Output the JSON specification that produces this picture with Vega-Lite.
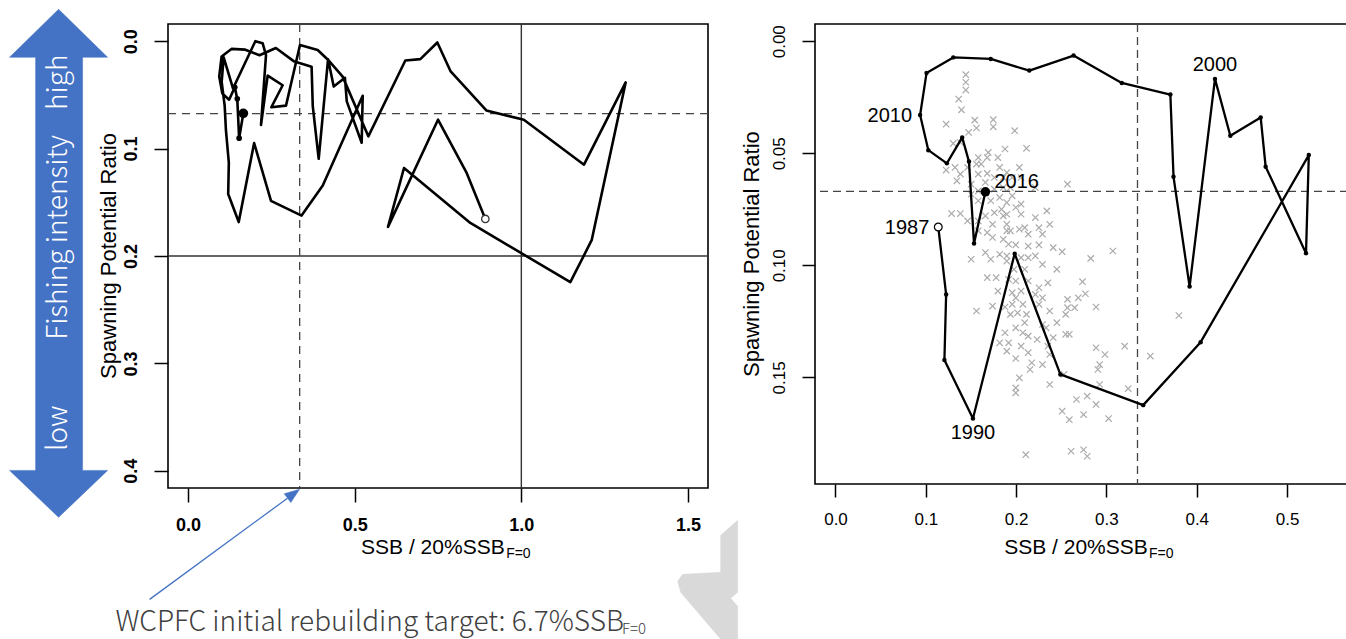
{
  "$schema": "https://vega.github.io/schema/vega-lite/v6.json",
  "padding": {"left": 7, "top": 7, "right": 0, "bottom": 0},
  "spacing": 107,
  "bounds": "flush",
  "background": "white",
  "config": {
    "view": {"stroke": "black", "strokeWidth": 1.6},
    "font": "Liberation Sans",
    "axis": {"grid": false, "domain": false, "tickColor": "black", "tickWidth": 1.5, "labelColor": "black", "labelFont": "Liberation Sans", "labelFontSize": 17, "labelFlush": false, "labelOverlap": false, "labelBound": false}
  },
  "datasets": {
    "lp": [
      {"i": 0, "x": 0.892, "y": 0.1655}, {"i": 1, "x": 0.836, "y": 0.1227}, {"i": 2, "x": 0.75, "y": 0.0731}, {"i": 3, "x": 0.6, "y": 0.1729},
      {"i": 4, "x": 0.648, "y": 0.1181}, {"i": 5, "x": 0.847, "y": 0.1692}, {"i": 6, "x": 1.147, "y": 0.2244}, {"i": 7, "x": 1.211, "y": 0.1853},
      {"i": 8, "x": 1.313, "y": 0.0384}, {"i": 9, "x": 1.188, "y": 0.115}, {"i": 10, "x": 1.0075, "y": 0.0731}, {"i": 11, "x": 0.895, "y": 0.0645},
      {"i": 12, "x": 0.788, "y": 0.0282}, {"i": 13, "x": 0.748, "y": 0.0012}, {"i": 14, "x": 0.697, "y": 0.0167}, {"i": 15, "x": 0.652, "y": 0.018},
      {"i": 16, "x": 0.541, "y": 0.0886}, {"i": 17, "x": 0.464, "y": 0.033}, {"i": 18, "x": 0.419, "y": 0.017}, {"i": 19, "x": 0.389, "y": 0.0082},
      {"i": 20, "x": 0.336, "y": 0.0035}, {"i": 21, "x": 0.294, "y": 0.06}, {"i": 22, "x": 0.25, "y": 0.0615}, {"i": 23, "x": 0.284, "y": 0.041},
      {"i": 24, "x": 0.239, "y": 0.032}, {"i": 25, "x": 0.219, "y": 0.078}, {"i": 26, "x": 0.234, "y": 0.013}, {"i": 27, "x": 0.224, "y": 0.002},
      {"i": 28, "x": 0.202, "y": 0.0}, {"i": 29, "x": 0.135, "y": 0.044}, {"i": 30, "x": 0.107, "y": 0.015}, {"i": 31, "x": 0.101, "y": 0.038},
      {"i": 32, "x": 0.11, "y": 0.06},
      {"i": 33, "x": 0.1138, "y": 0.0829}, {"i": 34, "x": 0.1225, "y": 0.113}, {"i": 35, "x": 0.1206, "y": 0.1423}, {"i": 36, "x": 0.1522, "y": 0.1684},
      {"i": 37, "x": 0.1984, "y": 0.0948}, {"i": 38, "x": 0.249, "y": 0.1487}, {"i": 39, "x": 0.3407, "y": 0.1624}, {"i": 40, "x": 0.4043, "y": 0.1343},
      {"i": 41, "x": 0.5241, "y": 0.0508}, {"i": 42, "x": 0.521, "y": 0.0946}, {"i": 43, "x": 0.4763, "y": 0.056}, {"i": 44, "x": 0.4708, "y": 0.034},
      {"i": 45, "x": 0.4372, "y": 0.0422}, {"i": 46, "x": 0.4202, "y": 0.0168}, {"i": 47, "x": 0.3921, "y": 0.1095}, {"i": 48, "x": 0.3743, "y": 0.0605},
      {"i": 49, "x": 0.3708, "y": 0.0238}, {"i": 50, "x": 0.317, "y": 0.0186}, {"i": 51, "x": 0.2636, "y": 0.0064}, {"i": 52, "x": 0.2146, "y": 0.0131},
      {"i": 53, "x": 0.1719, "y": 0.0079}, {"i": 54, "x": 0.1304, "y": 0.0072}, {"i": 55, "x": 0.1008, "y": 0.0142}, {"i": 56, "x": 0.0937, "y": 0.0329},
      {"i": 57, "x": 0.1028, "y": 0.0486}, {"i": 58, "x": 0.1233, "y": 0.0545}, {"i": 59, "x": 0.1403, "y": 0.0429}, {"i": 60, "x": 0.1478, "y": 0.0537},
      {"i": 61, "x": 0.1534, "y": 0.0903}, {"i": 62, "x": 0.166, "y": 0.0672}
    ],
    "rp": [
      {"year": 1987, "x": 0.1138, "y": 0.0829}, {"year": 1988, "x": 0.1225, "y": 0.113}, {"year": 1989, "x": 0.1206, "y": 0.1423}, {"year": 1990, "x": 0.1522, "y": 0.1684},
      {"year": 1991, "x": 0.1984, "y": 0.0948}, {"year": 1992, "x": 0.249, "y": 0.1487}, {"year": 1993, "x": 0.3407, "y": 0.1624}, {"year": 1994, "x": 0.4043, "y": 0.1343},
      {"year": 1995, "x": 0.5241, "y": 0.0508}, {"year": 1996, "x": 0.521, "y": 0.0946}, {"year": 1997, "x": 0.4763, "y": 0.056}, {"year": 1998, "x": 0.4708, "y": 0.034},
      {"year": 1999, "x": 0.4372, "y": 0.0422}, {"year": 2000, "x": 0.4202, "y": 0.0168}, {"year": 2001, "x": 0.3921, "y": 0.1095}, {"year": 2002, "x": 0.3743, "y": 0.0605},
      {"year": 2003, "x": 0.3708, "y": 0.0238}, {"year": 2004, "x": 0.317, "y": 0.0186}, {"year": 2005, "x": 0.2636, "y": 0.0064}, {"year": 2006, "x": 0.2146, "y": 0.0131},
      {"year": 2007, "x": 0.1719, "y": 0.0079}, {"year": 2008, "x": 0.1304, "y": 0.0072}, {"year": 2009, "x": 0.1008, "y": 0.0142}, {"year": 2010, "x": 0.0937, "y": 0.0329},
      {"year": 2011, "x": 0.1028, "y": 0.0486}, {"year": 2012, "x": 0.1233, "y": 0.0545}, {"year": 2013, "x": 0.1403, "y": 0.0429}, {"year": 2014, "x": 0.1478, "y": 0.0537},
      {"year": 2015, "x": 0.1534, "y": 0.0903}, {"year": 2016, "x": 0.166, "y": 0.0672}
    ],
    "cr": [
      {"x":0.1443,"y":0.0149},{"x":0.1443,"y":0.0183},{"x":0.1443,"y":0.0218},{"x":0.1364,"y":0.0258},{"x":0.1395,"y":0.0306},{"x":0.1225,"y":0.037},{"x":0.1542,"y":0.0352},{"x":0.1561,"y":0.0387},{"x":0.1747,"y":0.035},{"x":0.1747,"y":0.0382},
      {"x":0.1984,"y":0.0399},{"x":0.1474,"y":0.0407},{"x":0.1383,"y":0.0452},{"x":0.1304,"y":0.0456},{"x":0.2115,"y":0.0478},{"x":0.1877,"y":0.0481},{"x":0.1692,"y":0.0496},{"x":0.1581,"y":0.0519},{"x":0.168,"y":0.0519},{"x":0.1798,"y":0.0519},
      {"x":0.1561,"y":0.0548},{"x":0.1613,"y":0.0548},{"x":0.1225,"y":0.0575},{"x":0.1324,"y":0.0563},{"x":0.1383,"y":0.0593},{"x":0.1462,"y":0.0563},{"x":0.1818,"y":0.0563},{"x":0.1897,"y":0.0586},{"x":0.2036,"y":0.0563},{"x":0.1581,"y":0.0593},
      {"x":0.168,"y":0.059},{"x":0.1759,"y":0.0608},{"x":0.1858,"y":0.0608},{"x":0.1957,"y":0.0608},{"x":0.2055,"y":0.0608},{"x":0.1344,"y":0.0623},{"x":0.1502,"y":0.0638},{"x":0.166,"y":0.063},{"x":0.2569,"y":0.0638},{"x":0.2213,"y":0.0653},
      {"x":0.1937,"y":0.0653},{"x":0.1858,"y":0.0653},{"x":0.1759,"y":0.066},{"x":0.1581,"y":0.0668},{"x":0.1502,"y":0.0683},{"x":0.1957,"y":0.069},{"x":0.1818,"y":0.0697},{"x":0.1719,"y":0.0712},{"x":0.1581,"y":0.0712},{"x":0.1897,"y":0.072},
      {"x":0.2055,"y":0.0727},{"x":0.1996,"y":0.0742},{"x":0.1838,"y":0.075},{"x":0.1759,"y":0.0765},{"x":0.1897,"y":0.0772},{"x":0.2055,"y":0.0772},{"x":0.1285,"y":0.0769},{"x":0.1383,"y":0.0769},{"x":0.166,"y":0.0779},{"x":0.1858,"y":0.0779},
      {"x":0.234,"y":0.0757},{"x":0.2213,"y":0.0787},{"x":0.1462,"y":0.0802},{"x":0.1581,"y":0.0802},{"x":0.1739,"y":0.0817},{"x":0.1897,"y":0.0817},{"x":0.2372,"y":0.0817},{"x":0.2095,"y":0.0832},{"x":0.2253,"y":0.0832},{"x":0.1581,"y":0.0846},
      {"x":0.168,"y":0.0854},{"x":0.1897,"y":0.0846},{"x":0.1937,"y":0.0846},{"x":0.2036,"y":0.0839},{"x":0.2134,"y":0.0861},{"x":0.2292,"y":0.0861},{"x":0.1739,"y":0.0876},{"x":0.1858,"y":0.0884},{"x":0.2411,"y":0.0921},{"x":0.251,"y":0.0939},
      {"x":0.1917,"y":0.0906},{"x":0.1996,"y":0.0909},{"x":0.2134,"y":0.0914},{"x":0.2253,"y":0.0909},{"x":0.166,"y":0.0943},{"x":0.1818,"y":0.0951},{"x":0.1897,"y":0.0958},{"x":0.2055,"y":0.0966},{"x":0.2134,"y":0.0966},{"x":0.2213,"y":0.0958},
      {"x":0.1502,"y":0.0973},{"x":0.1719,"y":0.0973},{"x":0.1897,"y":0.0981},{"x":0.2826,"y":0.0969},{"x":0.3071,"y":0.0936},{"x":0.2451,"y":0.1018},{"x":0.2292,"y":0.0996},{"x":0.2095,"y":0.1018},{"x":0.1976,"y":0.1018},{"x":0.1779,"y":0.1055},
      {"x":0.168,"y":0.1055},{"x":0.1917,"y":0.1063},{"x":0.1996,"y":0.107},{"x":0.2134,"y":0.107},{"x":0.2352,"y":0.1078},{"x":0.2735,"y":0.1073},{"x":0.2253,"y":0.11},{"x":0.2055,"y":0.1115},{"x":0.1957,"y":0.1122},{"x":0.1798,"y":0.1115},
      {"x":0.1996,"y":0.1145},{"x":0.2213,"y":0.113},{"x":0.2292,"y":0.1145},{"x":0.2569,"y":0.1152},{"x":0.2688,"y":0.1145},{"x":0.2767,"y":0.1127},{"x":0.1739,"y":0.1182},{"x":0.1877,"y":0.1186},{"x":0.1957,"y":0.1174},{"x":0.2075,"y":0.1174},
      {"x":0.2253,"y":0.1174},{"x":0.2569,"y":0.1189},{"x":0.2648,"y":0.1189},{"x":0.2885,"y":0.1186},{"x":0.1561,"y":0.1204},{"x":0.1937,"y":0.1219},{"x":0.2016,"y":0.1212},{"x":0.2115,"y":0.1219},{"x":0.2372,"y":0.1204},{"x":0.2549,"y":0.1219},
      {"x":0.3802,"y":0.1224},{"x":0.2095,"y":0.1256},{"x":0.2292,"y":0.1264},{"x":0.2451,"y":0.1256},{"x":0.2332,"y":0.1279},{"x":0.1996,"y":0.1279},{"x":0.2075,"y":0.1301},{"x":0.1877,"y":0.1301},{"x":0.2134,"y":0.1316},{"x":0.2233,"y":0.1331},
      {"x":0.2549,"y":0.1308},{"x":0.2589,"y":0.1308},{"x":0.2411,"y":0.1323},{"x":0.1818,"y":0.1346},{"x":0.1917,"y":0.1346},{"x":0.2055,"y":0.1361},{"x":0.2352,"y":0.1361},{"x":0.1897,"y":0.1383},{"x":0.2134,"y":0.139},{"x":0.2885,"y":0.1368},
      {"x":0.3202,"y":0.1361},{"x":0.2984,"y":0.1398},{"x":0.2372,"y":0.1398},{"x":0.3486,"y":0.1405},{"x":0.1996,"y":0.1416},{"x":0.2174,"y":0.1435},{"x":0.2292,"y":0.1443},{"x":0.2925,"y":0.1443},{"x":0.2905,"y":0.1465},{"x":0.253,"y":0.1487},
      {"x":0.2154,"y":0.1465},{"x":0.2036,"y":0.1502},{"x":0.2372,"y":0.1532},{"x":0.2925,"y":0.1532},{"x":0.3241,"y":0.155},{"x":0.1996,"y":0.1547},{"x":0.1996,"y":0.1569},{"x":0.2668,"y":0.1599},{"x":0.2787,"y":0.1584},{"x":0.2885,"y":0.1621},
      {"x":0.251,"y":0.1651},{"x":0.2747,"y":0.1666},{"x":0.3024,"y":0.1684},{"x":0.2589,"y":0.1689},{"x":0.2107,"y":0.1845},{"x":0.2609,"y":0.183},{"x":0.2747,"y":0.1823},{"x":0.2787,"y":0.1852}
    ],
    "arrowPoly": [
      {"i": 0, "x": -0.3882, "y": -0.0297}, {"i": 1, "x": -0.2412, "y": 0.015}, {"i": 2, "x": -0.3162, "y": 0.015}, {"i": 3, "x": -0.3162, "y": 0.3996},
      {"i": 4, "x": -0.2412, "y": 0.3996}, {"i": 5, "x": -0.3882, "y": 0.4433}, {"i": 6, "x": -0.5353, "y": 0.3996}, {"i": 7, "x": -0.4572, "y": 0.3996},
      {"i": 8, "x": -0.4572, "y": 0.015}, {"i": 9, "x": -0.5353, "y": 0.015}, {"i": 10, "x": -0.3882, "y": -0.0297}
    ],
    "grayPoly": [
      {"i": 0, "x": 1.598, "y": 0.4601}, {"i": 1, "x": 1.649, "y": 0.4461}, {"i": 2, "x": 1.649, "y": 0.5131}, {"i": 3, "x": 1.628, "y": 0.5187},
      {"i": 4, "x": 1.649, "y": 0.5261}, {"i": 5, "x": 1.649, "y": 0.5588}, {"i": 6, "x": 1.604, "y": 0.5588}, {"i": 7, "x": 1.478, "y": 0.5131},
      {"i": 8, "x": 1.469, "y": 0.5029}, {"i": 9, "x": 1.484, "y": 0.4964}, {"i": 10, "x": 1.598, "y": 0.4945}, {"i": 11, "x": 1.598, "y": 0.4601}
    ]
  },
  "hconcat": [
    {
      "width": 540,
      "height": 464,
      "layer": [
        {
          "data": {"name": "grayPoly"},
          "mark": {"type": "line", "color": "#d9d9d9", "fill": "#d9d9d9", "strokeWidth": 0.5},
          "encoding": {
            "x": {"field": "x", "type": "quantitative", "title": null, "scale": {"domain": [-0.06, 1.56], "nice": false, "zero": false},
              "axis": {"values": [0, 0.5, 1, 1.5], "format": ".1f", "tickSize": 14, "labelPadding": 14, "labelFontSize": 18, "labelFontWeight": "bold", "title": null}},
            "y": {"field": "y", "type": "quantitative", "title": null, "scale": {"domain": [-0.016, 0.416], "nice": false, "zero": false, "reverse": true},
              "axis": {"values": [0, 0.1, 0.2, 0.3, 0.4], "format": ".1f", "tickSize": 14, "labelPadding": 14, "labelFontSize": 18, "labelFontWeight": "bold", "labelAngle": 270, "labelAlign": "center", "labelBaseline": "bottom", "title": null}},
            "order": {"field": "i"}
          }
        },
        {
          "data": {"values": [{}]},
          "mark": {"type": "rule", "color": "#333333", "strokeWidth": 1.4},
          "encoding": {"y": {"datum": 0.2, "type": "quantitative"}}
        },
        {
          "data": {"values": [{}]},
          "mark": {"type": "rule", "color": "#333333", "strokeWidth": 1.4},
          "encoding": {"x": {"datum": 1.0, "type": "quantitative"}}
        },
        {
          "data": {"values": [{}]},
          "mark": {"type": "rule", "color": "#444444", "strokeWidth": 1.3, "strokeDash": [8, 6]},
          "encoding": {"y": {"datum": 0.0675, "type": "quantitative"}}
        },
        {
          "data": {"values": [{}]},
          "mark": {"type": "rule", "color": "#444444", "strokeWidth": 1.3, "strokeDash": [8, 6]},
          "encoding": {"x": {"datum": 0.335, "type": "quantitative"}}
        },
        {
          "data": {"name": "lp"},
          "mark": {"type": "line", "color": "black", "strokeWidth": 2.6, "strokeJoin": "round"},
          "encoding": {
            "x": {"field": "x", "type": "quantitative", "title": null},
            "y": {"field": "y", "type": "quantitative", "title": null},
            "order": {"field": "i"}
          }
        },
        {
          "data": {"values": [{"x": 0.892, "y": 0.1655}]},
          "mark": {"type": "point", "shape": "circle", "size": 55, "filled": false, "fill": "white", "stroke": "#333333", "strokeWidth": 1.3, "opacity": 1},
          "encoding": {"x": {"field": "x", "type": "quantitative", "title": null}, "y": {"field": "y", "type": "quantitative", "title": null}}
        },
        {
          "data": {"values": [{"x": 0.1403, "y": 0.0429}, {"x": 0.1478, "y": 0.0537}, {"x": 0.1534, "y": 0.0903}]},
          "mark": {"type": "point", "shape": "circle", "size": 32, "filled": true, "color": "black", "opacity": 1},
          "encoding": {"x": {"field": "x", "type": "quantitative", "title": null}, "y": {"field": "y", "type": "quantitative", "title": null}}
        },
        {
          "data": {"values": [{"x": 0.166, "y": 0.0672}]},
          "mark": {"type": "point", "shape": "circle", "size": 95, "filled": true, "color": "black", "opacity": 1},
          "encoding": {"x": {"field": "x", "type": "quantitative", "title": null}, "y": {"field": "y", "type": "quantitative", "title": null}}
        },
        {
          "data": {"name": "arrowPoly"},
          "mark": {"type": "line", "color": "#4472C4", "fill": "#4472C4", "strokeWidth": 0.5},
          "encoding": {
            "x": {"field": "x", "type": "quantitative", "title": null},
            "y": {"field": "y", "type": "quantitative", "title": null},
            "order": {"field": "i"}
          }
        },
        {
          "data": {"values": [{"x": -0.3882, "y": 0.0383, "t": "high"}, {"x": -0.3882, "y": 0.1826, "t": "Fishing   intensity"}, {"x": -0.3882, "y": 0.3604, "t": "low"}]},
          "mark": {"type": "text", "angle": 270, "align": "center", "baseline": "middle", "color": "white", "font": "Noto Sans CJK JP", "fontWeight": 300, "fontSize": 28},
          "encoding": {"x": {"field": "x", "type": "quantitative", "title": null}, "y": {"field": "y", "type": "quantitative", "title": null}, "text": {"field": "t"}}
        },
        {
          "data": {"values": [{"i": 0, "x": -0.1152, "y": 0.5197}, {"i": 1, "x": 0.2985, "y": 0.4255}]},
          "mark": {"type": "line", "color": "#4472C4", "strokeWidth": 1.3},
          "encoding": {"x": {"field": "x", "type": "quantitative", "title": null}, "y": {"field": "y", "type": "quantitative", "title": null}, "order": {"field": "i"}}
        },
        {
          "data": {"values": [{"i": 0, "x": 0.3348, "y": 0.4172}, {"i": 1, "x": 0.3084, "y": 0.4296}, {"i": 2, "x": 0.2886, "y": 0.4214}, {"i": 3, "x": 0.3348, "y": 0.4172}]},
          "mark": {"type": "line", "color": "#4472C4", "fill": "#4472C4", "strokeWidth": 0.5},
          "encoding": {"x": {"field": "x", "type": "quantitative", "title": null}, "y": {"field": "y", "type": "quantitative", "title": null}, "order": {"field": "i"}}
        },
        {
          "data": {"values": [{"x": -0.2172, "y": 0.5495, "t": "WCPFC initial rebuilding target: 6.7%SSB"}]},
          "mark": {"type": "text", "align": "left", "baseline": "alphabetic", "color": "#404040", "font": "Noto Sans CJK JP", "fontWeight": 300, "fontSize": 28},
          "encoding": {"x": {"field": "x", "type": "quantitative", "title": null}, "y": {"field": "y", "type": "quantitative", "title": null}, "text": {"field": "t"}}
        },
        {
          "data": {"values": [{"x": 1.302, "y": 0.5518, "t": "F=0"}]},
          "mark": {"type": "text", "align": "left", "baseline": "alphabetic", "color": "#404040", "font": "Noto Sans CJK JP", "fontWeight": 300, "fontSize": 15},
          "encoding": {"x": {"field": "x", "type": "quantitative", "title": null}, "y": {"field": "y", "type": "quantitative", "title": null}, "text": {"field": "t"}}
        },
        {
          "data": {"values": [{"x": 0.95, "y": 0.4778, "t": "SSB / 20%SSB"}]},
          "mark": {"type": "text", "align": "right", "baseline": "alphabetic", "color": "black", "font": "Liberation Sans", "fontSize": 21},
          "encoding": {"x": {"field": "x", "type": "quantitative", "title": null}, "y": {"field": "y", "type": "quantitative", "title": null}, "text": {"field": "t"}}
        },
        {
          "data": {"values": [{"x": 0.9544, "y": 0.4815, "t": "F=0"}]},
          "mark": {"type": "text", "align": "left", "baseline": "alphabetic", "color": "black", "font": "Liberation Sans", "fontSize": 14},
          "encoding": {"x": {"field": "x", "type": "quantitative", "title": null}, "y": {"field": "y", "type": "quantitative", "title": null}, "text": {"field": "t"}}
        },
        {
          "data": {"values": [{"x": -0.2382, "y": 0.2, "t": "Spawning Potential Ratio"}]},
          "mark": {"type": "text", "angle": 270, "align": "center", "baseline": "middle", "color": "black", "font": "Liberation Sans", "fontSize": 22},
          "encoding": {"x": {"field": "x", "type": "quantitative", "title": null}, "y": {"field": "y", "type": "quantitative", "title": null}, "text": {"field": "t"}}
        }
      ]
    },
    {
      "width": 533,
      "height": 460,
      "layer": [
        {
          "data": {"name": "cr"},
          "mark": {"type": "point", "shape": "M-1,-1L1,1M-1,1L1,-1", "size": 40, "filled": false, "stroke": "#ababab", "strokeWidth": 1.2, "opacity": 1},
          "encoding": {
            "x": {"field": "x", "type": "quantitative", "title": null, "scale": {"domain": [-0.0227, 0.5675], "nice": false, "zero": false},
              "axis": {"values": [0, 0.1, 0.2, 0.3, 0.4, 0.5], "format": ".1f", "tickSize": 13, "labelPadding": 14, "labelFontSize": 17, "title": null}},
            "y": {"field": "y", "type": "quantitative", "title": null, "scale": {"domain": [-0.0077, 0.1976], "nice": false, "zero": false, "reverse": true},
              "axis": {"values": [0, 0.05, 0.1, 0.15], "format": ".2f", "tickSize": 13, "labelPadding": 14, "labelFontSize": 17, "labelAngle": 270, "labelAlign": "center", "labelBaseline": "bottom", "title": null}}
          }
        },
        {
          "data": {"values": [{}]},
          "mark": {"type": "rule", "color": "#444444", "strokeWidth": 1.3, "strokeDash": [8, 5]},
          "encoding": {"y": {"datum": 0.067, "type": "quantitative"}}
        },
        {
          "data": {"values": [{}]},
          "mark": {"type": "rule", "color": "#444444", "strokeWidth": 1.3, "strokeDash": [8, 5]},
          "encoding": {"x": {"datum": 0.3344, "type": "quantitative"}}
        },
        {
          "data": {"name": "rp"},
          "mark": {"type": "line", "color": "black", "strokeWidth": 2.3, "strokeJoin": "round"},
          "encoding": {
            "x": {"field": "x", "type": "quantitative", "title": null},
            "y": {"field": "y", "type": "quantitative", "title": null},
            "order": {"field": "year"}
          }
        },
        {
          "data": {"name": "rp"},
          "mark": {"type": "point", "shape": "circle", "size": 20, "filled": true, "color": "black", "opacity": 1},
          "encoding": {"x": {"field": "x", "type": "quantitative", "title": null}, "y": {"field": "y", "type": "quantitative", "title": null}}
        },
        {
          "data": {"values": [{"x": 0.1138, "y": 0.0829}]},
          "mark": {"type": "point", "shape": "circle", "size": 60, "filled": false, "fill": "white", "stroke": "black", "strokeWidth": 1.2, "opacity": 1},
          "encoding": {"x": {"field": "x", "type": "quantitative", "title": null}, "y": {"field": "y", "type": "quantitative", "title": null}}
        },
        {
          "data": {"values": [{"x": 0.166, "y": 0.0672}]},
          "mark": {"type": "point", "shape": "circle", "size": 90, "filled": true, "color": "black", "opacity": 1},
          "encoding": {"x": {"field": "x", "type": "quantitative", "title": null}, "y": {"field": "y", "type": "quantitative", "title": null}}
        },
        {
          "data": {"values": [{"x": 0.4202, "y": 0.0168, "t": "2000"}]},
          "mark": {"type": "text", "align": "center", "baseline": "middle", "dy": -14, "fontSize": 20, "font": "Liberation Sans", "color": "black"},
          "encoding": {"x": {"field": "x", "type": "quantitative", "title": null}, "y": {"field": "y", "type": "quantitative", "title": null}, "text": {"field": "t"}}
        },
        {
          "data": {"values": [{"x": 0.0937, "y": 0.0329, "t": "2010"}]},
          "mark": {"type": "text", "align": "right", "baseline": "middle", "dx": -8, "dy": 1, "fontSize": 20, "font": "Liberation Sans", "color": "black"},
          "encoding": {"x": {"field": "x", "type": "quantitative", "title": null}, "y": {"field": "y", "type": "quantitative", "title": null}, "text": {"field": "t"}}
        },
        {
          "data": {"values": [{"x": 0.166, "y": 0.0672, "t": "2016"}]},
          "mark": {"type": "text", "align": "left", "baseline": "middle", "dx": 9, "dy": -10, "fontSize": 20, "font": "Liberation Sans", "color": "black"},
          "encoding": {"x": {"field": "x", "type": "quantitative", "title": null}, "y": {"field": "y", "type": "quantitative", "title": null}, "text": {"field": "t"}}
        },
        {
          "data": {"values": [{"x": 0.1138, "y": 0.0829, "t": "1987"}]},
          "mark": {"type": "text", "align": "right", "baseline": "middle", "dx": -9, "dy": 1, "fontSize": 20, "font": "Liberation Sans", "color": "black"},
          "encoding": {"x": {"field": "x", "type": "quantitative", "title": null}, "y": {"field": "y", "type": "quantitative", "title": null}, "text": {"field": "t"}}
        },
        {
          "data": {"values": [{"x": 0.1522, "y": 0.1684, "t": "1990"}]},
          "mark": {"type": "text", "align": "center", "baseline": "middle", "dy": 14, "fontSize": 20, "font": "Liberation Sans", "color": "black"},
          "encoding": {"x": {"field": "x", "type": "quantitative", "title": null}, "y": {"field": "y", "type": "quantitative", "title": null}, "text": {"field": "t"}}
        },
        {
          "data": {"values": [{"x": 0.3458, "y": 0.229, "t": "SSB / 20%SSB"}]},
          "mark": {"type": "text", "align": "right", "baseline": "alphabetic", "color": "black", "font": "Liberation Sans", "fontSize": 21},
          "encoding": {"x": {"field": "x", "type": "quantitative", "title": null}, "y": {"field": "y", "type": "quantitative", "title": null}, "text": {"field": "t"}}
        },
        {
          "data": {"values": [{"x": 0.3472, "y": 0.2308, "t": "F=0"}]},
          "mark": {"type": "text", "align": "left", "baseline": "alphabetic", "color": "black", "font": "Liberation Sans", "fontSize": 14},
          "encoding": {"x": {"field": "x", "type": "quantitative", "title": null}, "y": {"field": "y", "type": "quantitative", "title": null}, "text": {"field": "t"}}
        },
        {
          "data": {"values": [{"x": -0.093, "y": 0.095, "t": "Spawning Potential Ratio"}]},
          "mark": {"type": "text", "angle": 270, "align": "center", "baseline": "middle", "color": "black", "font": "Liberation Sans", "fontSize": 22},
          "encoding": {"x": {"field": "x", "type": "quantitative", "title": null}, "y": {"field": "y", "type": "quantitative", "title": null}, "text": {"field": "t"}}
        }
      ]
    }
  ]
}
